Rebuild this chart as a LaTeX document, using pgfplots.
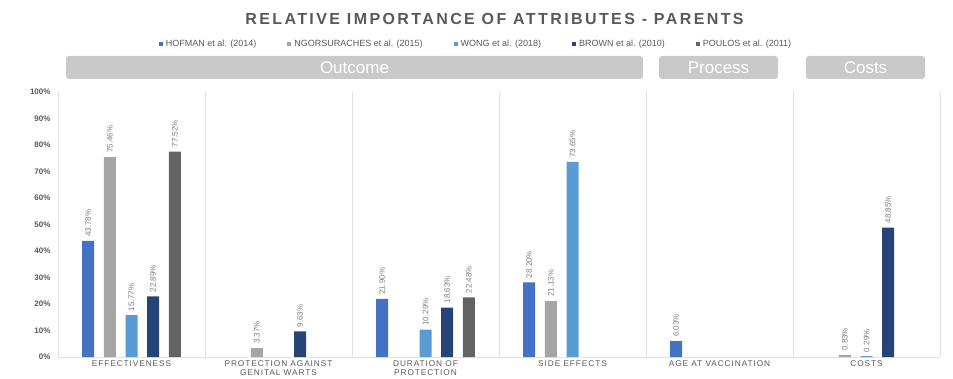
\documentclass[border=0pt]{standalone}
\usepackage{fontspec}
\setmainfont{Liberation Sans}
\usepackage{pgfplots}
\pgfplotsset{compat=1.18}
\newfontfamily\spacedfont[LetterSpace=11]{Liberation Sans}
\newfontfamily\titlefont[LetterSpace=15]{Liberation Sans}
\definecolor{cHof}{HTML}{4472C4}
\definecolor{cNgo}{HTML}{A5A5A5}
\definecolor{cWong}{HTML}{5B9BD5}
\definecolor{cBrown}{HTML}{264478}
\definecolor{cPoul}{HTML}{636363}
\definecolor{txt}{HTML}{595959}
\definecolor{vtxt}{HTML}{7F7F7F}
\definecolor{hdr}{HTML}{C9C9C9}
\definecolor{sep}{HTML}{E2E2E2}
\pgfplotsset{sqleg/.style={legend image code/.code={\fill[##1] (0pt,-1.5pt) rectangle (4pt,2.5pt);}}}
\begin{document}
\begin{tikzpicture}[x=1pt,y=1pt]
% title
\node[font=\titlefont\bfseries\fontsize{16}{16}\selectfont, text=txt] at (494.5,359.5) {RELATIVE IMPORTANCE OF ATTRIBUTES - PARENTS};
% group header boxes
\fill[hdr, rounded corners=3pt] (66,299) rectangle (643,322);
\fill[hdr, rounded corners=3pt] (659,299) rectangle (778,322);
\fill[hdr, rounded corners=3pt] (806,299) rectangle (925,322);
\node[white, font=\fontsize{17}{17}\selectfont] at (354.5,310.5) {Outcome};
\node[white, font=\fontsize{17}{17}\selectfont] at (718.5,310.5) {Process};
\node[white, font=\fontsize{17}{17}\selectfont] at (865.5,310.5) {Costs};
\begin{axis}[
  at={(58pt,21pt)}, anchor=south west,
  scale only axis, width=882pt, height=265pt,
  /pgf/number format/assume math mode=true,
  ybar, bar width=12pt,
  xmin=-0.5, xmax=5.5, ymin=0, ymax=100,
  axis x line*=bottom, axis y line*=left,
  axis line style={draw=sep, line width=0.8pt, -},
  major tick length=0pt,
  ytick={0,10,...,100},
  yticklabel={\pgfmathprintnumber{\tick}\%},
  yticklabel style={font=\bfseries\fontsize{8}{8}\selectfont, text=txt, xshift=-4pt},
  xtick={0,1,2,3,4,5},
  xticklabels={EFFECTIVENESS, {PROTECTION AGAINST\\GENITAL WARTS}, {DURATION OF\\PROTECTION}, SIDE EFFECTS, AGE AT VACCINATION, COSTS},
  xticklabel style={font=\spacedfont\fontsize{8.3}{8.5}\selectfont, text=txt, align=center, yshift=-3pt, inner sep=1pt},
  nodes near coords={\pgfmathprintnumber[fixed,fixed zerofill,precision=2]{\pgfplotspointmeta}\%},
  every node near coord/.append style={rotate=90, anchor=west, font=\fontsize{8}{8}\selectfont, text=vtxt, inner sep=4pt},
  legend columns=5,
  legend style={draw=none, fill=none, font=\fontsize{9}{9}\selectfont, text=txt,
    at={(0.474,1.181)}, anchor=center,
    /tikz/every even column/.append style={column sep=29pt},
    /tikz/every odd column/.append style={column sep=1pt}},
  legend cell align=left,
  clip=false,
]
\pgfplotsinvokeforeach{0.5,1.5,2.5,3.5,4.5,5.5}{
  \draw[sep, line width=0.8pt] (axis cs:#1,0) -- (axis cs:#1,100);
}
\addplot[fill=cHof, draw=none, bar shift=-43.4pt, sqleg] coordinates {(0,43.78) (2,21.90) (3,28.20) (4,6.03)};
\addlegendentry{HOFMAN et al. (2014)}
\addplot[fill=cNgo, draw=none, bar shift=-21.7pt, sqleg] coordinates {(0,75.46) (1,3.37) (3,21.13) (5,0.83)};
\addlegendentry{NGORSURACHES et al. (2015)}
\addplot[fill=cWong, draw=none, bar shift=0pt, sqleg] coordinates {(0,15.77) (2,10.29) (3,73.65) (5,0.29)};
\addlegendentry{WONG et al. (2018)}
\addplot[fill=cBrown, draw=none, bar shift=21.7pt, sqleg] coordinates {(0,22.89) (1,9.63) (2,18.63) (5,48.85)};
\addlegendentry{BROWN et al. (2010)}
\addplot[fill=cPoul, draw=none, bar shift=43.4pt, sqleg] coordinates {(0,77.52) (2,22.48)};
\addlegendentry{POULOS et al. (2011)}
\end{axis}
\pgfresetboundingbox
\path[use as bounding box] (0,0) rectangle (953,378);
\end{tikzpicture}
\end{document}
